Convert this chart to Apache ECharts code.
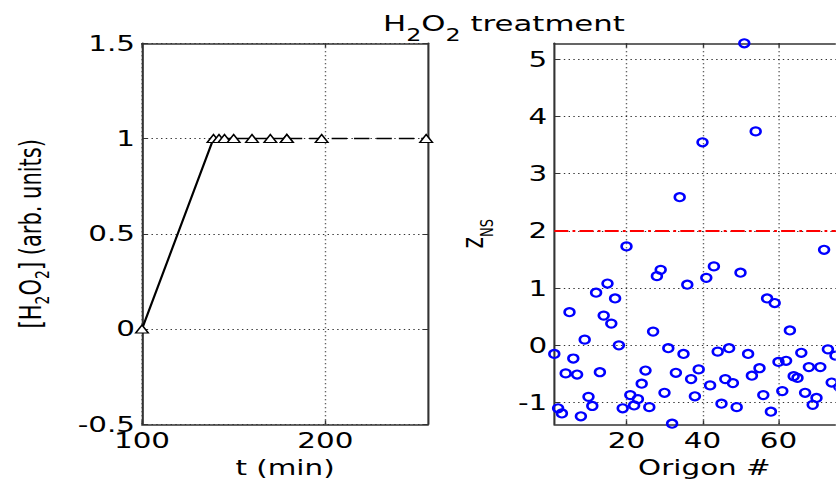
<!DOCTYPE html>
<html>
<head>
<meta charset="utf-8">
<script src="https://cdn.jsdelivr.net/npm/echarts@6/dist/echarts.min.js"></script>
<style>
html,body{margin:0;padding:0;background:#fff;overflow:hidden}
#wrap{width:836px;height:483px;overflow:hidden;position:relative;background:#fff}
#chart{position:absolute;left:0;top:0;height:483px;transform-origin:0 0}
</style>
</head>
<body>
<div id="wrap"><div id="chart"></div></div>
<script>
// ---------- data ----------
// Left panel: H2O2 concentration vs time
const tSolid = [100, 139, 142, 145, 150, 160, 170, 179];
const hSolid = [0, 1, 1, 1, 1, 1, 1, 1];
const tDashed = [179, 198, 255];
const hDashed = [1, 1, 1];
const tTicks = [100, 200];
const hTicks = [-0.5, 0, 0.5, 1, 1.5];

// Right panel: z_NS per Origon
const origon = [1,2,3,4,5,6,7,8,9,10,11,12,13,14,15,16,17,18,19,20,21,22,23,24,25,26,27,28,29,30,
  31,32,33,34,35,36,37,38,39,40,41,42,43,44,45,46,47,48,49,50,51,52,53,54,55,56,57,58,59,60,
  61,62,63,64,65,66,67,68,69,70,71,72,73,74,75,76];
const zns = [-0.15,-1.10,-1.19,-0.49,0.58,-0.23,-0.51,-1.24,0.10,-0.90,
  -1.06,0.92,-0.47,0.52,1.08,0.38,0.82,0.00,-1.10,1.73,
  -0.87,-1.05,-0.94,-0.67,-0.44,-1.08,0.24,1.21,1.32,-0.83,
  -0.05,-1.37,-0.48,2.59,-0.15,1.06,-0.59,-0.89,-0.42,3.55,
  1.18,-0.70,1.38,-0.11,-1.02,-0.59,-0.05,-0.66,-1.08,1.27,
  5.28,-0.15,-0.53,3.74,-0.40,-0.87,0.82,-1.16,0.74,-0.29,
  -0.80,-0.27,0.26,-0.54,-0.57,-0.13,-0.83,-0.38,-1.04,-0.92,
  -0.38,1.67,-0.07,-0.65,-0.18,-0.73];
const origonTicks = [20, 40, 60, 80];
const origonLabels = [20, 40, 60];
const znsTicks = [-1, 0, 1, 2, 3, 4, 5];
const threshold = 2;

// ---------- layout (reference image is stretched horizontally) ----------
const S = 1.4;
const el = document.getElementById('chart');
el.style.width = (836 / S) + 'px';
el.style.transform = 'scaleX(' + S + ')';
const X = v => v / S;

const FONT = 'DejaVu Sans';
const FRAME = '#333';
const GRIDC = '#333';
const zip = (a, b) => a.map((v, i) => [v, b[i]]);

const frameLine = {show: true, onZero: false, lineStyle: {color: FRAME, width: 1.5}};
const lbl = {color: '#000', fontSize: 21, fontFamily: FONT, lineHeight: 16};
const vDots = {show: true, lineStyle: {color: GRIDC, width: 1, type: [1, 3]}};
const hDots = {show: true, lineStyle: {color: GRIDC, width: 1, type: [1, 2.4]}};

const chart = echarts.init(el, null, {renderer: 'svg'});
chart.setOption({
  animation: false,
  backgroundColor: '#fff',
  title: {
    text: '{m|H}{s|2}{m|O}{s|2}{m| treatment}',
    left: X(383), top: 3.5, padding: 0,
    textStyle: {
      fontWeight: 'normal',
      rich: {
        m: {fontSize: 22, fontFamily: FONT, fontWeight: 'normal', color: '#000', lineHeight: 40},
        s: {fontSize: 17, fontFamily: FONT, fontWeight: 'normal', color: '#000', lineHeight: 17, verticalAlign: 'bottom'}
      }
    }
  },
  grid: [
    {left: X(142), width: X(286), top: 43.3, height: 381, outerBoundsMode: 'none', containLabel: false},
    {left: X(554.3), width: X(3.8 * 79), top: 43.3, height: 381, outerBoundsMode: 'none', containLabel: false}
  ],
  xAxis: [
    {gridIndex: 0, type: 'value', min: 100, max: 256, interval: 100,
     axisLine: frameLine,
     axisTick: {inside: true, length: 4, customValues: tTicks, lineStyle: {color: FRAME}},
     axisLabel: Object.assign({customValues: tTicks, margin: 8.5}, lbl),
     splitLine: vDots,
     name: 't (min)', nameLocation: 'middle', nameGap: 33, nameMoveOverlap: false,
     nameTextStyle: {color: '#000', fontSize: 21, fontFamily: FONT}},
    {gridIndex: 0, type: 'value', position: 'top', min: 100, max: 256, interval: 100,
     axisLine: frameLine,
     axisTick: {inside: true, length: 4, customValues: tTicks, lineStyle: {color: FRAME}},
     axisLabel: {show: false}, splitLine: {show: false}},
    {gridIndex: 1, type: 'value', min: 1, max: 80,
     axisLine: frameLine,
     axisTick: {inside: true, length: 4, customValues: origonTicks, lineStyle: {color: FRAME}},
     axisLabel: Object.assign({customValues: origonLabels, margin: 8.5}, lbl),
     splitLine: vDots,
     name: 'Origon #', nameLocation: 'middle', nameGap: 33, nameMoveOverlap: false,
     nameTextStyle: {color: '#000', fontSize: 21, fontFamily: FONT}},
    {gridIndex: 1, type: 'value', position: 'top', min: 1, max: 80,
     axisLine: frameLine,
     axisTick: {inside: true, length: 4, customValues: origonTicks, lineStyle: {color: FRAME}},
     axisLabel: {show: false}, splitLine: {show: false}}
  ],
  yAxis: [
    {gridIndex: 0, type: 'value', min: -0.5, max: 1.5, interval: 0.5,
     axisLine: frameLine,
     axisTick: {inside: true, length: 4, customValues: hTicks, lineStyle: {color: FRAME}},
     axisLabel: Object.assign({customValues: hTicks, margin: 5}, lbl),
     splitLine: hDots,
     name: '{m|[H}{s|2}{m|O}{s|2}{m|] (arb. units)}', nameLocation: 'middle', nameRotate: 90,
     nameGap: 64.5, nameMoveOverlap: false,
     nameTextStyle: {rich: {
       m: {fontSize: 21, fontFamily: FONT, color: '#000', lineHeight: 30},
       s: {fontSize: 14, fontFamily: FONT, color: '#000', lineHeight: 14, verticalAlign: 'bottom'}
     }}},
    {gridIndex: 0, type: 'value', position: 'right', min: -0.5, max: 1.5, interval: 0.5,
     axisLine: frameLine,
     axisTick: {inside: true, length: 4, customValues: hTicks, lineStyle: {color: FRAME}},
     axisLabel: {show: false}, splitLine: {show: false}},
    {gridIndex: 1, type: 'value', min: -1.38, max: 5.28,
     axisLine: frameLine,
     axisTick: {inside: true, length: 4, customValues: znsTicks, lineStyle: {color: FRAME}},
     axisLabel: Object.assign({customValues: znsTicks, margin: 5}, lbl),
     splitLine: hDots,
     name: '{z|z}{s|NS}', nameLocation: 'middle', nameRotate: 90, nameGap: 42, nameMoveOverlap: false,
     nameTextStyle: {rich: {
       z: {fontSize: 22, fontFamily: FONT, color: '#000', lineHeight: 34},
       s: {fontSize: 13, fontFamily: FONT, color: '#000', lineHeight: 13, verticalAlign: 'bottom'}
     }}}
  ],
  series: [
    {type: 'line', xAxisIndex: 0, yAxisIndex: 0, data: zip(tSolid, hSolid),
     symbol: 'triangle', symbolSize: [9, 8], showAllSymbol: true,
     itemStyle: {color: '#fff', borderColor: '#000', borderWidth: 1.2},
     lineStyle: {color: '#000', width: 1.6}, z: 3},
    {type: 'line', xAxisIndex: 0, yAxisIndex: 0, data: zip(tDashed, hDashed),
     symbol: 'triangle', symbolSize: [9, 8], showAllSymbol: true,
     itemStyle: {color: '#fff', borderColor: '#000', borderWidth: 1.2},
     lineStyle: {color: '#000', width: 1.6, type: [11, 5]}, z: 3},
    {type: 'scatter', xAxisIndex: 2, yAxisIndex: 2, data: zip(origon, zns),
     symbol: 'circle', symbolSize: [7, 8],
     itemStyle: {color: 'rgba(0,0,0,0)', borderColor: '#0000ff', borderWidth: 2, opacity: 1},
     clip: false,
     markLine: {silent: true, symbol: 'none', label: {show: false},
       lineStyle: {color: '#ff0000', width: 2, type: [10, 3, 2, 3]},
       data: [{yAxis: threshold}]}, z: 3}
  ]
});
</script>
</body>
</html>
